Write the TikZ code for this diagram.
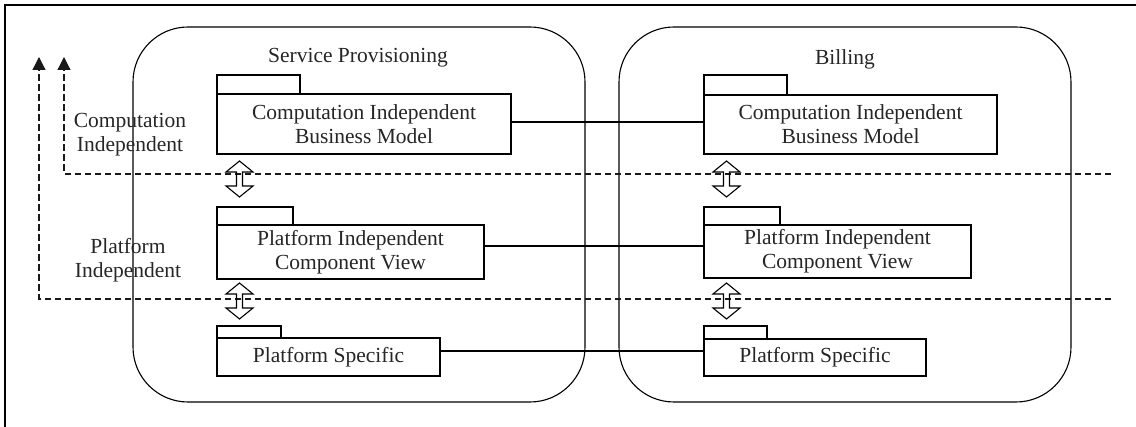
\documentclass[tikz,border=0pt]{standalone}
\usepackage{fontspec}
\setmainfont{Liberation Serif}
\usetikzlibrary{arrows.meta}
\begin{document}
\begin{tikzpicture}[x=1pt,y=-1pt,
  every node/.style={font=\fontsize{21.5}{24}\selectfont, text=black!85, inner sep=0pt, outer sep=0pt},
  line/.style={draw=black, line width=1.1pt},
  container/.style={line, rounded corners=55pt, minimum width=452pt, minimum height=375pt, anchor=north west},
  pkgbody/.style={line, fill=white, anchor=north west, align=center},
  pkgtab/.style={line, fill=white, anchor=south west},
  levelline/.style={draw=black!90, line width=1.2pt, dash pattern=on 6.5pt off 3.5pt},
  lbl/.style={align=center},
  pics/dblarrow/.style={code={
    \draw[line, line width=1.1pt, line join=miter] (0,-18) -- (13.5,-7) -- (3,-7) -- (3,7) -- (13.5,7) -- (0,18)
      -- (-13.5,7) -- (-3,7) -- (-3,-7) -- (-13.5,-7) -- cycle;
  }}
]
\useasboundingbox (0,0) rectangle (1136,427);
% outer frame
\coordinate (fr1) at (5,427);
\coordinate (fr2) at (5,5);
\coordinate (fr3) at (1136,5);
\draw[line] (fr1) -- (fr2) -- (fr3);

% containers
\node[container] (sp) at (133,27) {};
\node[container] (bl) at (619,27) {};
\node (sptitle) at (358,58) {Service Provisioning};
\node (bltitle) at (845,59) {Billing};

% dashed level lines
\coordinate (u0) at (64,57);
\coordinate (u1) at (64,174);
\coordinate (u2) at (1111,174);
\coordinate (l0) at (39,57);
\coordinate (l1) at (39,299);
\coordinate (l2) at (1111,299);
\draw[levelline, -{Triangle[width=13pt,length=13pt]}] (u2) -- (u1) -- (u0);
\draw[levelline, -{Triangle[width=13pt,length=13pt]}] (l2) -- (l1) -- (l0);

% level labels
\node[lbl] (cilbl) at (130,135) {Computation\\Independent};
\node[lbl] (pilbl) at (128,260) {Platform\\Independent};

% left packages
\node[pkgbody, minimum width=294pt, minimum height=60pt] (a1) at (217,94) {Computation Independent\\Business Model};
\node[pkgtab, minimum width=83pt, minimum height=19pt] (a1t) at (a1.north west) {};
\node[pkgbody, minimum width=267pt, minimum height=54pt] (a2) at (217,225) {Platform Independent\\Component View};
\node[pkgtab, minimum width=76pt, minimum height=18pt] (a2t) at (a2.north west) {};
\node[pkgbody, minimum width=223pt, minimum height=38pt] (a3) at (217,338) {Platform Specific};
\node[pkgtab, minimum width=64pt, minimum height=12pt] (a3t) at (a3.north west) {};

% right packages
\node[pkgbody, minimum width=293pt, minimum height=59pt] (b1) at (704,95) {Computation Independent\\Business Model};
\node[pkgtab, minimum width=83pt, minimum height=20pt] (b1t) at (b1.north west) {};
\node[pkgbody, minimum width=267pt, minimum height=53pt] (b2) at (704,225) {Platform Independent\\Component View};
\node[pkgtab, minimum width=76pt, minimum height=18pt] (b2t) at (b2.north west) {};
\node[pkgbody, minimum width=222pt, minimum height=37pt] (b3) at (704,339) {Platform Specific};
\node[pkgtab, minimum width=63pt, minimum height=13pt] (b3t) at (b3.north west) {};

% connectors
\draw[line] ([yshift=2pt]a1.east) -- ([yshift=2pt]a1.east -| b1.west);
\draw[line] ([yshift=6pt]a2.east) -- ([yshift=6pt]a2.east -| b2.west);
\draw[line] ([yshift=6pt]a3.east) -- ([yshift=6pt]a3.east -| b3.west);

% refinement arrows
\pic at (239.5,179) {dblarrow};
\pic at (239.5,301) {dblarrow};
\pic at (726.5,179) {dblarrow};
\pic at (726.5,301) {dblarrow};
\end{tikzpicture}
\end{document}
